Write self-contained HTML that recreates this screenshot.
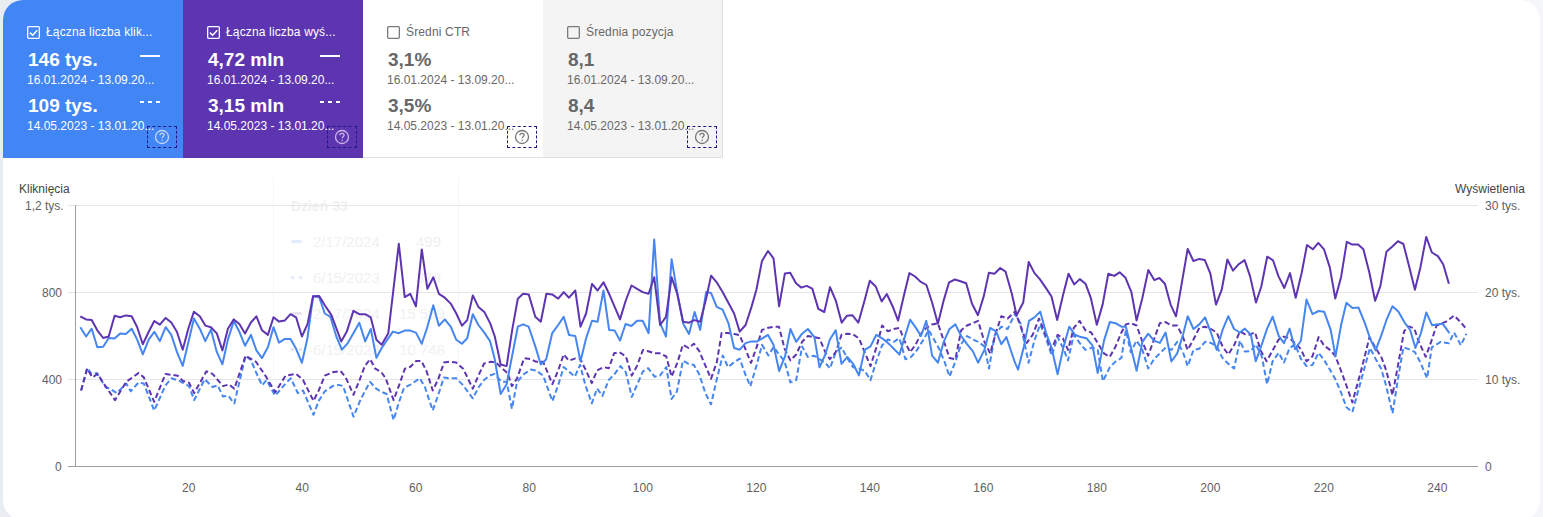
<!DOCTYPE html>
<html><head><meta charset="utf-8"><style>
html,body{margin:0;padding:0;}
body{width:1543px;height:517px;overflow:hidden;background:linear-gradient(90deg,#e9edf2 0,#eef1f5 50%,#f5f6f9 100%);position:relative;font-family:"Liberation Sans",sans-serif;}
.panel{position:absolute;left:3px;top:0;width:1537px;height:520px;background:#fff;border-radius:20px;overflow:hidden;}
.card{position:absolute;top:0;width:180px;height:158px;}
.panel .card{margin-left:-3px}
.chk{position:absolute;left:24px;top:26px;width:13px;height:13px;}
.chk svg{display:block}
.lbl{position:absolute;left:43px;top:25px;font-size:12px;letter-spacing:0.15px;white-space:nowrap;}
.v{position:absolute;left:25px;font-size:19px;font-weight:bold;white-space:nowrap;}
.v1{top:49px} .v2{top:95px}
.d{position:absolute;left:24px;font-size:12px;white-space:nowrap;}
.d1{top:73px} .d2{top:119px}
.dash{position:absolute;left:137px;top:55px;width:20px;height:2px;}
.dash2{position:absolute;left:137px;top:101px;width:20px;height:2px;}
.dash2 i{position:absolute;top:0;width:4px;height:2px;}
.dash2 i:nth-child(1){left:0} .dash2 i:nth-child(2){left:8px} .dash2 i:nth-child(3){left:16px}
.qbox{position:absolute;left:144px;top:126px;width:28px;height:20px;border:1px dashed #1b1b80;}
.q{position:absolute;left:151px;top:129px;}
.chart{position:absolute;left:0;top:0;}
.ax{position:absolute;font-size:12px;color:#616161;white-space:nowrap;}
.xl{position:absolute;top:481px;width:40px;text-align:center;font-size:12px;color:#616161;}
.tt{position:absolute;left:273px;top:177px;width:184px;height:200px;border-left:1px solid #f7f7f7;border-right:1px solid #f7f7f7;color:#f1f1f1;}
.tt div{position:absolute;white-space:nowrap;}
</style></head><body>
<div class="panel">
<div class="card" style="left:3px;background:#4285f4;color:#ffffff;">
  <div class="chk"><svg width="13" height="13" viewBox="0 0 13 13"><rect x="0.65" y="0.65" width="11.7" height="11.7" rx="1" fill="none" stroke="#ffffff" stroke-width="1.3"/><path d="M2.9 6.6 L5.6 9.2 L10.3 4.2" fill="none" stroke="#ffffff" stroke-width="1.5"/></svg></div>
  <div class="lbl">Łączna liczba klik...</div>
  <div class="v v1">146 tys.</div><div class="dash" style="background:#ffffff"></div>
  <div class="d d1">16.01.2024 - 13.09.20...</div>
  <div class="v v2">109 tys.</div><div class="dash2"><i style="background:#ffffff"></i><i style="background:#ffffff"></i><i style="background:#ffffff"></i></div>
  <div class="d d2">14.05.2023 - 13.01.20...</div>
  <div class="qbox"></div>
  <svg class="q" width="16" height="16" viewBox="0 0 16 16"><circle cx="8" cy="8" r="6.5" fill="none" stroke="#c5d7fb" stroke-width="1.3"/><path d="M5.9 6.3 C5.9 4.9 7 4.3 8 4.3 C9.1 4.3 10.1 5 10.1 6.1 C10.1 7.4 8.2 7.6 8.2 9.3" fill="none" stroke="#c5d7fb" stroke-width="1.3"/><circle cx="8.2" cy="11.2" r="0.8" fill="#c5d7fb"/></svg>
</div>
<div class="card" style="left:183px;background:#5e35b1;color:#ffffff;">
  <div class="chk"><svg width="13" height="13" viewBox="0 0 13 13"><rect x="0.65" y="0.65" width="11.7" height="11.7" rx="1" fill="none" stroke="#ffffff" stroke-width="1.3"/><path d="M2.9 6.6 L5.6 9.2 L10.3 4.2" fill="none" stroke="#ffffff" stroke-width="1.5"/></svg></div>
  <div class="lbl">Łączna liczba wyś...</div>
  <div class="v v1">4,72 mln</div><div class="dash" style="background:#ffffff"></div>
  <div class="d d1">16.01.2024 - 13.09.20...</div>
  <div class="v v2">3,15 mln</div><div class="dash2"><i style="background:#ffffff"></i><i style="background:#ffffff"></i><i style="background:#ffffff"></i></div>
  <div class="d d2">14.05.2023 - 13.01.20...</div>
  <div class="qbox"></div>
  <svg class="q" width="16" height="16" viewBox="0 0 16 16"><circle cx="8" cy="8" r="6.5" fill="none" stroke="#c9b8e8" stroke-width="1.3"/><path d="M5.9 6.3 C5.9 4.9 7 4.3 8 4.3 C9.1 4.3 10.1 5 10.1 6.1 C10.1 7.4 8.2 7.6 8.2 9.3" fill="none" stroke="#c9b8e8" stroke-width="1.3"/><circle cx="8.2" cy="11.2" r="0.8" fill="#c9b8e8"/></svg>
</div>
<div class="card" style="left:363px;background:#ffffff;color:#686868;border-bottom:1px solid #e0e0e0;height:157px">
  <div class="chk"><svg width="13" height="13" viewBox="0 0 13 13"><rect x="0.65" y="0.65" width="11.7" height="11.7" rx="1" fill="none" stroke="#7a7a7a" stroke-width="1.3"/></svg></div>
  <div class="lbl">Średni CTR</div>
  <div class="v v1">3,1%</div>
  <div class="d d1">16.01.2024 - 13.09.20...</div>
  <div class="v v2">3,5%</div>
  <div class="d d2">14.05.2023 - 13.01.20...</div>
  <div class="qbox"></div>
  <svg class="q" width="16" height="16" viewBox="0 0 16 16"><circle cx="8" cy="8" r="6.5" fill="none" stroke="#777" stroke-width="1.3"/><path d="M5.9 6.3 C5.9 4.9 7 4.3 8 4.3 C9.1 4.3 10.1 5 10.1 6.1 C10.1 7.4 8.2 7.6 8.2 9.3" fill="none" stroke="#777" stroke-width="1.3"/><circle cx="8.2" cy="11.2" r="0.8" fill="#777"/></svg>
</div>
<div class="card" style="left:543px;background:#f4f4f4;color:#686868;border-bottom:1px solid #e0e0e0;border-right:1px solid #e0e0e0;height:157px;width:179px">
  <div class="chk"><svg width="13" height="13" viewBox="0 0 13 13"><rect x="0.65" y="0.65" width="11.7" height="11.7" rx="1" fill="none" stroke="#7a7a7a" stroke-width="1.3"/></svg></div>
  <div class="lbl">Średnia pozycja</div>
  <div class="v v1">8,1</div>
  <div class="d d1">16.01.2024 - 13.09.20...</div>
  <div class="v v2">8,4</div>
  <div class="d d2">14.05.2023 - 13.01.20...</div>
  <div class="qbox"></div>
  <svg class="q" width="16" height="16" viewBox="0 0 16 16"><circle cx="8" cy="8" r="6.5" fill="none" stroke="#777" stroke-width="1.3"/><path d="M5.9 6.3 C5.9 4.9 7 4.3 8 4.3 C9.1 4.3 10.1 5 10.1 6.1 C10.1 7.4 8.2 7.6 8.2 9.3" fill="none" stroke="#777" stroke-width="1.3"/><circle cx="8.2" cy="11.2" r="0.8" fill="#777"/></svg>
</div>
</div>
<div class="tt">
 <div style="left:17px;top:21px;font-size:14px;font-weight:bold">Dzień 33</div>
 <div style="left:17px;top:63px;width:11px;height:3px;background:#e3ecfd;border-radius:2px"></div>
 <div style="left:39px;top:56px;font-size:15px">2/17/2024</div><div style="left:142px;top:56px;font-size:15px">499</div>
 <div style="left:17px;top:99px;width:3px;height:3px;background:#e3ecfd"></div><div style="left:25px;top:99px;width:3px;height:3px;background:#e3ecfd"></div>
 <div style="left:39px;top:92px;font-size:15px">6/15/2023</div><div style="left:142px;top:92px;font-size:15px">379</div>
 <div style="left:17px;top:135px;width:11px;height:3px;background:#e8e3f3;border-radius:2px"></div>
 <div style="left:39px;top:128px;font-size:15px">2/17/2024</div><div style="left:125px;top:128px;font-size:15px">15 559</div>
 <div style="left:17px;top:171px;width:3px;height:3px;background:#e8e3f3"></div><div style="left:25px;top:171px;width:3px;height:3px;background:#e8e3f3"></div>
 <div style="left:39px;top:164px;font-size:15px">6/15/2023</div><div style="left:125px;top:164px;font-size:15px">10 748</div>
</div>

<svg class="chart" width="1543" height="517" viewBox="0 0 1543 517">
  <g stroke="#e6e6e6" stroke-width="1">
    <line x1="68" y1="205.5" x2="1478" y2="205.5"/>
    <line x1="68" y1="292.5" x2="1478" y2="292.5"/>
    <line x1="68" y1="379.5" x2="1478" y2="379.5"/>
  </g>
  <line x1="75.5" y1="205" x2="75.5" y2="466" stroke="#9e9e9e" stroke-width="1"/>
  <line x1="68" y1="466.5" x2="1478" y2="466.5" stroke="#9e9e9e" stroke-width="1"/>
  <g fill="none" stroke-width="2" stroke-linejoin="round">
    <polyline stroke="#4686f0" stroke-dasharray="5.5,3" points="81.1,390.5 87.2,367.9 91.5,373.9 96.8,373.1 105.5,387.0 109.8,388.7 116.8,393.1 126.3,383.5 130.7,391.3 138.5,382.6 143.8,383.5 154.2,410.5 165.5,385.3 171.6,378.3 179.4,380.9 189.0,386.1 194.2,400.1 204.7,379.2 212.5,387.0 217.7,385.3 223.0,396.6 228.2,395.7 234.3,403.5 245.6,355.7 250.8,360.0 256.0,372.2 262.1,385.3 266.5,380.0 275.2,395.7 285.6,383.5 290.8,378.3 297.8,393.1 303.0,390.5 313.5,414.8 318.7,400.9 324.8,391.3 332.6,386.1 338.7,384.9 343.1,386.1 353.5,416.6 359.6,401.8 364.8,391.3 370.1,381.8 376.1,388.7 382.2,392.2 386.6,394.0 393.6,420.1 398.8,402.7 404.0,387.9 411.0,384.4 419.7,378.3 424.9,387.0 432.7,410.5 437.9,395.7 444.0,377.4 449.3,378.3 456.2,378.3 462.3,384.4 472.8,398.3 478.8,387.0 484.1,380.0 489.3,375.7 494.5,373.9 501.5,381.8 506.7,381.8 511.9,408.8 517.1,381.8 524.1,373.9 531.1,369.6 536.3,370.5 543.2,375.7 552.4,401.2 558.2,385.2 563.7,367.1 568.8,371.4 574.8,376.7 580.1,365.0 585.4,385.2 591.8,403.3 597.1,388.4 602.4,395.9 608.8,379.9 614.1,374.6 620.5,366.1 625.9,372.4 631.8,396.9 636.9,385.2 642.9,371.4 648.2,368.2 654.6,376.7 659.9,375.6 666.3,367.1 671.6,399.0 676.9,391.6 682.9,360.7 688.6,363.9 693.9,365.0 699.3,374.6 705.6,393.7 711.0,404.4 716.9,378.8 722.7,355.4 728.0,367.1 733.3,362.9 739.7,358.6 745.0,373.5 750.3,386.3 756.7,365.0 762.0,344.8 768.4,355.4 773.7,346.9 779.0,354.4 784.6,361.5 790.4,382.4 796.2,380.1 802.1,346.4 807.9,356.9 814.4,355.7 819.5,359.2 825.3,362.7 829.9,368.5 835.7,352.2 841.5,347.6 847.3,358.0 853.1,367.3 858.9,368.5 864.7,370.8 870.5,380.1 876.3,361.5 882.1,345.3 887.9,339.5 893.7,341.8 899.5,338.3 905.4,359.2 911.2,356.9 917.1,349.9 922.9,340.6 928.7,330.2 933.3,338.3 939.1,348.7 944.9,362.7 949.5,376.6 955.4,361.5 961.2,344.1 967.0,336.0 972.8,339.5 978.1,341.8 984.4,346.4 989.0,368.5 994.8,334.8 1001.3,326.7 1007.6,329.0 1015.0,313.9 1020.4,323.2 1028.6,362.7 1034.4,340.6 1040.2,324.4 1046.0,338.3 1051.8,355.7 1057.6,337.1 1063.4,348.7 1068.0,360.4 1073.8,334.8 1079.6,342.9 1085.4,349.9 1092.4,347.6 1097.7,349.9 1102.9,381.2 1109.8,367.3 1115.6,361.5 1121.4,358.0 1125.9,330.2 1130.8,352.2 1136.6,340.6 1142.4,349.9 1148.2,368.5 1154.0,359.2 1159.8,353.4 1165.6,347.6 1171.4,349.9 1177.2,341.8 1183.0,352.2 1187.7,366.2 1193.5,349.9 1199.3,348.7 1205.1,341.8 1210.9,342.9 1216.7,346.4 1222.5,358.0 1228.3,363.8 1234.1,368.5 1239.9,340.6 1244.8,351.6 1250.9,351.1 1255.7,344.4 1261.8,356.4 1267.1,384.2 1272.6,361.3 1278.7,352.8 1284.0,362.5 1289.6,348.0 1295.1,344.4 1300.9,358.9 1306.5,366.1 1312.5,364.9 1318.6,352.8 1324.1,360.1 1330.7,371.0 1335.5,379.4 1341.1,392.7 1346.4,407.2 1352.4,412.1 1362.3,375.8 1370.0,348.0 1375.6,358.9 1381.1,368.5 1386.4,386.7 1392.5,413.3 1398.5,375.8 1403.4,347.4 1409.5,349.4 1414.9,352.1 1420.3,362.2 1427.1,378.2 1431.8,347.4 1440.6,341.9 1448.7,343.3 1454.1,332.5 1460.9,345.3 1466.3,333.8"/>
    <polyline stroke="#5e35b1" stroke-dasharray="5.5,3" points="81.1,390.5 87.2,368.7 92.4,377.4 97.6,373.9 103.7,383.5 115.0,400.1 126.3,381.8 138.5,373.1 143.8,377.4 154.2,401.8 165.5,373.9 177.7,375.7 182.9,380.9 189.0,382.6 194.2,393.1 206.4,371.3 212.5,373.9 223.0,386.1 229.0,384.4 234.3,388.7 245.6,355.7 256.0,361.8 266.5,377.4 275.2,392.2 285.6,375.7 296.1,373.9 303.0,380.0 313.5,400.9 318.7,390.5 324.8,375.7 332.6,372.2 340.5,371.0 345.7,377.4 353.5,394.8 359.6,380.0 364.8,366.1 370.1,359.1 375.3,368.7 381.4,372.2 385.7,378.3 393.6,400.1 398.8,386.1 404.9,368.7 410.1,367.0 416.2,360.9 421.4,360.9 426.6,371.3 432.7,390.5 437.9,380.0 444.0,362.6 449.3,361.8 456.2,362.6 463.2,368.7 472.8,388.7 478.8,374.8 484.1,363.5 491.0,361.8 496.2,362.6 501.5,367.9 507.6,373.1 511.9,386.1 517.1,378.3 524.1,358.3 531.1,359.1 536.3,361.8 543.2,361.8 552.4,384.1 558.2,370.3 563.7,354.4 568.8,360.7 574.8,358.6 580.1,358.6 585.4,369.3 591.8,383.1 597.1,370.3 603.5,367.1 608.8,368.2 614.1,353.3 619.5,352.2 625.9,356.5 631.8,375.6 636.9,366.1 642.9,350.1 648.2,351.2 654.6,353.3 659.9,353.3 666.3,356.5 671.6,376.7 677.3,362.9 682.9,344.8 688.6,348.0 693.9,343.7 699.3,351.2 705.6,366.1 711.0,378.8 716.9,361.8 721.6,333.1 728.0,333.1 734.4,334.1 739.7,335.2 745.0,348.0 751.0,362.9 756.7,346.9 762.0,329.9 768.4,327.8 773.7,326.7 779.0,326.7 784.6,348.7 790.4,360.4 796.2,354.5 802.1,341.8 807.9,336.0 814.4,337.1 819.5,338.3 825.3,352.2 829.9,359.2 835.7,352.2 841.5,334.8 847.3,333.7 853.1,334.4 858.9,338.3 864.7,352.2 870.5,366.2 876.3,347.6 882.1,325.5 887.9,331.3 893.7,329.0 899.5,327.9 904.3,340.6 910.1,352.2 915.9,344.1 921.0,333.7 926.3,327.9 932.1,324.4 937.9,323.2 943.7,340.6 949.5,358.0 955.4,359.2 961.2,330.2 967.0,325.5 972.8,323.2 978.1,320.9 984.4,341.8 990.2,353.4 996.0,332.5 1001.3,316.2 1007.6,318.6 1015.0,311.6 1020.4,325.5 1026.7,342.9 1032.7,334.8 1039.0,318.6 1044.8,332.5 1051.3,349.9 1057.6,334.8 1062.9,338.3 1068.0,349.9 1073.8,327.9 1079.6,320.9 1085.4,330.2 1091.2,332.5 1097.7,342.9 1104.0,353.4 1109.8,356.9 1115.6,346.4 1121.4,332.5 1125.9,324.4 1130.8,323.2 1136.6,325.5 1142.4,341.8 1148.2,355.7 1154.0,339.5 1159.8,323.2 1165.6,322.1 1171.4,325.5 1177.2,325.5 1183.0,337.1 1187.7,349.9 1193.5,339.5 1199.3,327.9 1205.1,326.7 1210.9,329.0 1216.7,332.5 1222.5,346.4 1228.3,354.5 1234.1,345.3 1239.9,331.3 1244.8,334.2 1249.7,334.7 1255.0,332.3 1260.6,350.4 1266.6,361.3 1272.6,350.4 1278.7,339.5 1284.0,336.6 1289.6,338.3 1295.1,343.1 1300.9,349.2 1306.5,361.3 1312.5,356.4 1318.6,337.1 1324.1,345.6 1330.7,350.4 1335.5,356.4 1341.1,371.0 1346.4,385.5 1352.4,402.4 1362.3,366.1 1369.5,337.1 1375.6,348.0 1381.6,357.7 1386.4,371.0 1392.5,395.1 1398.5,362.5 1404.1,331.1 1408.8,326.4 1414.2,328.4 1418.9,341.9 1425.7,356.8 1431.1,341.9 1436.5,325.7 1446.0,321.7 1454.1,315.6 1460.2,321.7 1467.0,329.8"/>
    <polyline stroke="#4686f0" points="80.3,327.2 86.1,336.5 91.7,328.7 97.3,347.3 103.2,346.7 108.7,338.0 114.6,338.6 120.2,333.4 125.8,334.0 131.7,328.7 137.2,339.6 142.8,354.4 148.7,339.6 154.3,331.8 159.8,341.1 165.7,327.2 171.3,334.9 176.9,351.9 182.7,365.9 188.3,342.6 193.9,318.5 199.8,328.7 205.3,341.1 210.9,329.6 216.8,351.9 222.4,364.3 227.9,339.6 233.8,321.0 239.4,331.8 245.0,345.7 250.9,334.9 256.4,350.4 262.0,358.1 267.9,347.3 273.5,327.2 279.0,342.6 284.9,338.9 290.5,338.9 296.1,348.8 301.9,362.8 307.5,338.0 313.1,296.2 319.2,297.1 324.8,313.5 330.4,316.8 336.3,336.5 341.9,349.7 347.8,343.1 353.4,333.2 359.3,322.7 365.2,341.4 370.8,329.0 376.4,357.9 381.7,348.0 387.3,339.8 392.9,331.6 398.8,333.2 404.7,330.6 410.3,330.6 415.9,332.6 421.8,343.8 427.4,326.7 433.3,305.3 438.9,325.7 444.8,319.4 450.7,326.7 456.3,339.8 461.9,343.8 467.2,338.2 472.8,314.2 478.4,325.0 484.3,332.6 490.2,341.4 494.8,359.5 500.7,394.1 506.6,384.2 517.8,326.7 523.1,324.3 528.7,326.7 535.3,346.4 540.8,364.5 546.1,359.5 552.2,333.2 558.2,325.0 563.7,316.8 569.0,334.9 575.3,335.9 580.5,361.2 586.1,338.2 592.0,320.7 597.6,321.7 603.5,290.5 609.1,329.9 614.7,330.6 620.0,340.5 625.6,324.0 631.5,326.0 637.1,320.7 642.7,320.7 648.6,333.2 654.2,239.5 660.1,323.4 666.0,336.5 671.6,259.2 677.2,292.1 683.1,323.4 689.0,333.9 694.6,311.9 700.2,329.9 706.1,292.1 711.1,293.1 716.7,306.9 722.6,309.6 728.5,323.4 734.1,348.0 739.7,349.7 745.6,343.1 751.5,341.4 757.1,341.4 762.7,338.2 768.0,334.9 773.5,344.7 779.1,371.0 785.1,356.2 790.4,329.0 796.2,341.8 802.1,333.7 807.9,329.0 814.4,337.1 819.5,367.3 825.3,354.5 829.9,339.5 835.7,330.2 841.5,363.8 847.3,356.9 853.1,363.8 858.9,375.4 864.7,349.9 870.5,346.4 876.3,334.8 882.1,338.3 887.9,342.9 893.7,348.7 899.5,354.5 904.7,337.1 910.1,319.7 915.9,327.9 921.0,336.0 926.3,320.9 932.1,355.7 937.9,362.7 943.7,341.8 949.5,329.0 955.4,324.4 961.2,336.0 967.0,344.1 972.8,351.1 978.1,362.7 984.4,349.9 990.2,327.9 996.0,331.3 1001.3,344.1 1006.4,337.1 1015.0,362.7 1018.1,369.6 1023.9,346.4 1029.0,320.9 1034.4,317.4 1040.2,311.6 1046.0,332.5 1051.8,348.7 1057.6,374.3 1063.4,347.6 1069.2,326.7 1075.0,334.8 1080.8,337.1 1086.6,338.3 1092.4,345.3 1097.7,373.1 1104.0,340.6 1109.8,322.1 1115.6,323.2 1121.4,326.7 1125.9,326.7 1136.6,370.8 1142.4,341.8 1148.2,333.7 1154.0,340.6 1159.8,342.9 1165.6,332.5 1171.4,361.5 1177.2,353.4 1183.0,334.8 1187.7,316.2 1193.5,329.0 1199.3,324.4 1205.1,317.4 1210.9,332.5 1216.7,349.9 1222.5,330.2 1228.3,316.2 1234.1,329.0 1239.9,332.5 1244.8,328.6 1250.9,334.7 1255.7,361.3 1261.8,344.4 1267.1,328.6 1272.6,316.6 1278.7,335.9 1284.0,343.1 1289.6,328.6 1295.1,349.2 1300.9,340.7 1306.5,299.6 1312.5,314.1 1318.6,311.0 1324.1,311.7 1330.7,329.8 1335.5,356.4 1341.1,325.0 1346.4,302.8 1352.4,308.1 1358.5,307.6 1364.7,322.6 1370.0,338.3 1375.6,350.4 1381.1,335.9 1386.4,320.2 1392.5,306.2 1398.5,311.7 1404.6,322.6 1410.1,329.8 1415.4,348.0 1420.8,333.5 1426.3,312.4 1432.1,325.3 1436.5,324.4 1442.6,323.7 1449.4,333.2"/>
    <polyline stroke="#5e35b1" points="80.3,316.3 86.1,319.4 91.7,320.0 97.3,330.3 103.2,338.0 108.7,336.5 114.6,315.7 120.2,317.3 125.8,315.4 131.7,316.3 137.2,327.2 142.8,344.2 148.7,331.8 154.3,321.0 159.8,324.7 165.7,317.9 171.3,322.5 176.9,331.8 182.7,349.8 188.3,328.7 193.9,311.7 199.8,316.3 205.3,325.6 210.9,327.2 216.8,333.4 222.4,350.4 227.9,328.7 233.8,319.4 239.4,324.1 245.0,333.4 250.9,322.5 256.4,316.3 262.0,330.3 267.9,334.9 273.5,317.3 279.0,321.6 284.9,320.4 290.5,314.2 296.1,317.3 301.9,336.5 307.5,324.1 313.1,296.2 319.2,296.1 324.8,305.3 331.4,315.1 341.2,341.4 346.8,331.6 353.4,310.9 359.3,314.2 365.2,314.2 370.8,317.4 376.4,339.8 381.7,344.7 388.3,333.2 398.8,243.8 404.7,297.1 410.3,293.8 415.9,306.3 421.8,249.4 427.4,288.8 433.3,277.3 438.9,293.8 444.8,297.7 450.7,303.6 456.3,313.5 461.9,325.7 467.2,320.1 472.8,295.4 478.4,306.9 484.3,311.9 490.2,323.4 494.8,336.5 500.7,364.5 506.6,366.1 512.2,329.9 517.8,298.7 523.1,293.8 528.7,294.4 535.3,316.8 540.8,321.7 546.4,293.8 552.2,294.4 558.2,298.7 563.7,292.1 569.0,297.7 575.3,290.5 580.5,326.7 586.1,313.5 592.0,283.9 597.6,290.5 603.5,282.3 609.1,293.8 614.7,306.9 620.0,319.4 625.6,301.0 631.5,285.5 637.1,288.8 642.7,292.1 648.6,293.8 654.2,277.3 660.1,325.0 666.0,316.8 671.6,277.3 677.2,293.8 683.1,321.7 689.0,322.7 694.6,320.1 700.2,321.7 706.1,298.7 711.1,275.7 716.7,282.3 722.6,292.1 728.5,303.0 734.1,313.5 739.7,331.6 745.6,325.0 751.5,306.9 756.4,289.8 762.0,260.9 768.0,251.0 773.5,258.3 779.1,306.3 784.9,273.4 790.2,272.7 796.0,283.3 801.3,287.6 806.6,285.9 812.3,288.6 818.3,308.9 824.3,312.0 830.0,287.1 835.7,300.3 841.7,322.7 847.0,315.7 852.3,315.2 858.3,322.7 864.0,302.5 869.8,280.8 875.7,286.5 881.7,301.4 886.8,294.0 892.8,306.7 898.1,320.6 903.8,296.1 909.4,273.1 915.1,276.5 920.4,281.6 926.4,285.0 932.1,302.5 937.9,323.7 943.4,301.4 949.1,282.3 954.9,279.5 960.4,281.2 966.2,283.3 971.9,303.5 977.9,315.2 983.8,296.1 988.9,272.7 994.5,273.7 1000.2,268.0 1005.5,271.6 1011.9,294.0 1016.6,315.2 1023.2,302.5 1028.7,262.0 1034.5,273.1 1039.8,279.1 1045.7,287.6 1051.5,296.5 1057.2,319.9 1062.8,296.1 1068.5,273.7 1074.3,284.4 1079.8,279.1 1085.5,283.7 1090.9,298.2 1096.8,324.8 1102.6,304.6 1108.3,273.7 1114.3,275.9 1119.6,272.3 1125.3,277.4 1131.3,291.8 1136.6,320.6 1142.3,298.2 1148.3,270.1 1154.3,280.1 1159.4,278.0 1164.9,283.7 1170.6,304.6 1176.0,316.3 1181.9,282.3 1187.7,248.9 1193.4,261.0 1199.4,258.9 1204.7,259.9 1210.4,273.7 1216.0,304.6 1221.7,289.7 1227.4,259.5 1233.0,270.6 1238.7,264.2 1244.6,260.1 1250.1,276.4 1256.0,302.5 1261.3,286.5 1267.2,256.7 1273.0,260.3 1278.3,275.9 1284.3,288.0 1290.0,273.1 1295.7,297.8 1301.7,272.7 1307.0,245.0 1312.8,249.3 1318.3,242.9 1324.0,249.3 1329.8,267.4 1335.3,298.6 1341.1,276.9 1346.8,241.8 1352.3,244.6 1358.1,244.6 1363.4,249.3 1369.4,272.7 1375.1,300.8 1380.4,285.9 1386.4,251.8 1392.1,246.7 1397.9,241.2 1403.4,244.0 1409.1,266.3 1414.9,289.7 1420.4,267.4 1426.2,236.9 1431.9,252.5 1437.9,256.1 1443.2,264.2 1448.9,283.7"/>
  </g>
</svg>
<div class="ax" style="left:19px;top:182px;color:#444">Kliknięcia</div>
<div class="ax" style="left:25px;top:199px">1,2 tys.</div>
<div class="ax" style="left:42px;top:286px">800</div>
<div class="ax" style="left:42px;top:373px">400</div>
<div class="ax" style="left:55px;top:460px">0</div>
<div class="ax" style="left:1455px;top:182px;color:#444">Wyświetlenia</div>
<div class="ax" style="left:1485px;top:199px">30 tys.</div>
<div class="ax" style="left:1485px;top:286px">20 tys.</div>
<div class="ax" style="left:1485px;top:373px">10 tys.</div>
<div class="ax" style="left:1485px;top:460px">0</div>
<div class="xl" style="left:168.80px">20</div>
<div class="xl" style="left:282.30px">40</div>
<div class="xl" style="left:395.80px">60</div>
<div class="xl" style="left:509.30px">80</div>
<div class="xl" style="left:622.80px">100</div>
<div class="xl" style="left:736.30px">120</div>
<div class="xl" style="left:849.80px">140</div>
<div class="xl" style="left:963.30px">160</div>
<div class="xl" style="left:1076.80px">180</div>
<div class="xl" style="left:1190.30px">200</div>
<div class="xl" style="left:1303.80px">220</div>
<div class="xl" style="left:1417.30px">240</div>

</body></html>
